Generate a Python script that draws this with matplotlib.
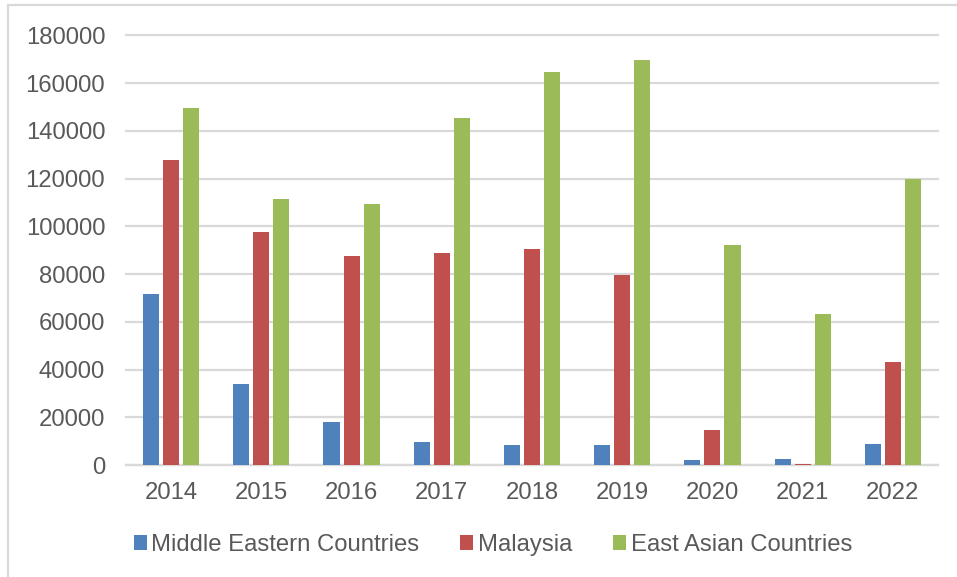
import numpy as np
import matplotlib.pyplot as plt
from matplotlib.lines import Line2D

years = ["2014", "2015", "2016", "2017", "2018", "2019", "2020", "2021", "2022"]
middle_east = [71500, 34000, 18000, 9700, 8300, 8500, 2200, 2500, 8800]
malaysia = [128000, 97800, 87500, 89000, 90500, 79700, 14500, 500, 43200]
east_asia = [149500, 111500, 109300, 145500, 164500, 169800, 92000, 63300, 120000]

series = [
    ("Middle Eastern Countries", middle_east, "#4f81bd"),
    ("Malaysia", malaysia, "#c0504d"),
    ("East Asian Countries", east_asia, "#9bbb59"),
]

plt.rcParams['font.family'] = ['Liberation Sans', 'DejaVu Sans']
text_col = "#595959"
grid_col = "#d9d9d9"
fs = 17.2

W, H = 957, 577
fig = plt.figure(figsize=(W / 100, H / 100), dpi=100)
ax = fig.add_axes([126 / W, (H - 465) / H, (938 - 126) / W, (465 - 35.5) / H])

x = np.arange(len(years))
step = 0.222
for i, (name, vals, col) in enumerate(series):
    ax.bar(x + (i - 1) * step, vals, width=0.178, color=col, label=name, zorder=3)

ax.set_xlim(-0.5, len(years) - 0.5)
ax.set_ylim(0, 180000)
ax.set_yticks(np.arange(0, 180001, 20000))
ax.set_xticks(x)
ax.set_xticklabels(years)
ax.yaxis.grid(True, color=grid_col, linewidth=1.6, zorder=0)
for gl in ax.get_ygridlines():
    gl.set_clip_on(False)
ax.tick_params(axis='both', length=0, labelsize=fs, labelcolor=text_col)
ax.tick_params(axis='y', pad=15)
ax.tick_params(axis='x', pad=12)
for side in ["top", "right", "left"]:
    ax.spines[side].set_visible(False)
ax.spines["bottom"].set_color(grid_col)
ax.spines["bottom"].set_linewidth(1.6)

fig.legend(loc='center', bbox_to_anchor=(493 / W, 32 / H), ncol=3, frameon=False,
           fontsize=fs, labelcolor=text_col, handlelength=0.55, handleheight=0.55,
           handletextpad=0.2, columnspacing=1.7, borderpad=0)

# chart border (cut off on the right and bottom)
fig.add_artist(Line2D([8 / W, 1.0], [1 - 5 / H, 1 - 5 / H], color=grid_col, linewidth=1.6,
                      transform=fig.transFigure))
fig.add_artist(Line2D([8 / W, 8 / W], [0.0, 1 - 5 / H], color=grid_col, linewidth=1.6,
                      transform=fig.transFigure))

fig.savefig("out.png", dpi=100)
